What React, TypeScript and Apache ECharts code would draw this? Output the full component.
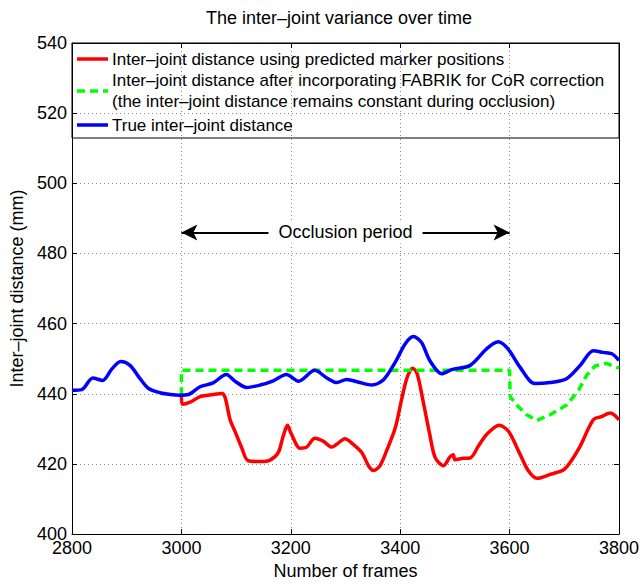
import React, { useEffect, useRef } from "react";
import * as echarts from "echarts";

const FONT = "'Liberation Sans', Arial, Helvetica, sans-serif";

const titleText = "The inter–joint variance over time";
const xAxisName = "Number of frames";
const yAxisName = "Inter–joint distance (mm)";
const annotationText = "Occlusion period";
const legendRed = "Inter–joint distance using predicted marker positions";
const legendGreen1 = "Inter–joint distance after incorporating FABRIK for CoR correction";
const legendGreen2 = "(the inter–joint distance remains constant during occlusion)";
const legendBlue = "True inter–joint distance";

// True inter-joint distance (blue)
const blueFrames = [2800, 2818, 2838, 2856, 2873, 2889, 2906, 2924, 2940, 2961, 2980, 2997, 3013, 3034, 3058, 3082, 3098, 3119, 3144, 3168, 3192, 3214, 3244, 3266, 3284, 3302, 3326, 3348, 3369, 3391, 3409, 3424, 3439, 3454, 3476, 3494, 3528, 3558, 3579, 3597, 3619, 3646, 3674, 3704, 3729, 3753, 3771, 3787, 3800];
const blueDist = [441.0, 441.2, 444.5, 443.8, 447.1, 449.2, 448.1, 444.4, 441.5, 440.3, 439.8, 439.6, 439.8, 442.0, 443.1, 445.5, 443.6, 441.8, 442.5, 443.7, 445.5, 443.6, 446.7, 444.5, 443.2, 444.1, 443.2, 442.5, 443.9, 449.0, 454.2, 456.3, 454.6, 449.5, 445.7, 446.9, 448.1, 452.8, 454.8, 452.8, 447.6, 442.9, 443.2, 444.3, 448.1, 452.3, 451.8, 451.4, 449.5];

// Predicted marker positions (red)
const redFrames = [3000, 3001, 3016, 3034, 3058, 3074, 3080, 3089, 3098, 3110, 3122, 3144, 3162, 3177, 3186, 3194, 3200, 3217, 3229, 3244, 3259, 3275, 3284, 3299, 3314, 3330, 3342, 3351, 3363, 3375, 3391, 3403, 3413, 3423, 3431, 3442, 3454, 3464, 3479, 3491, 3497, 3500, 3515, 3528, 3543, 3558, 3581, 3598, 3619, 3634, 3650, 3674, 3701, 3726, 3753, 3768, 3784, 3800];
const redDist = [439.6, 437.0, 437.6, 439.2, 439.8, 440.1, 438.9, 432.6, 429.3, 424.7, 420.9, 420.7, 421.1, 423.2, 427.9, 431.0, 428.9, 424.5, 424.8, 427.3, 426.5, 424.8, 425.6, 427.2, 425.6, 423.2, 419.5, 418.1, 419.5, 423.7, 430.3, 438.7, 444.8, 447.3, 445.7, 437.8, 428.4, 421.8, 419.5, 422.0, 422.6, 421.2, 421.6, 421.7, 425.1, 428.4, 431.0, 429.3, 422.8, 418.1, 415.9, 417.0, 418.6, 424.2, 432.6, 433.5, 434.5, 432.6];

// FABRIK CoR correction (green dashed)
const greenFrames = [3000, 3000, 3600, 3601, 3613, 3631, 3650, 3674, 3704, 3726, 3741, 3756, 3777, 3800];
const greenDist = [439.6, 446.7, 446.7, 439.2, 436.8, 434.0, 432.4, 434.0, 436.8, 441.0, 445.3, 447.9, 448.7, 447.3];

// Occlusion period annotation
const occlusionStart = 3000;
const occlusionEnd = 3600;
const occlusionLevel = 486;

const zip = (xs: number[], ys: number[]) => xs.map((x, i) => [x, ys[i]]);

export default function App() {
  const ref = useRef<HTMLDivElement>(null);
  useEffect(() => {
    if (!ref.current) return;
    const chart = echarts.init(ref.current, null, { renderer: "svg", width: 643, height: 585 });
    const axisLine = { show: true, lineStyle: { color: "#000", width: 1 } };
    const axisTick = { show: true, inside: true, length: 5, lineStyle: { color: "#000", width: 1 } };
    const split = { show: true, lineStyle: { color: "#8a8a8a", width: 1, type: [1, 3] } };
    const labelStyle = { color: "#000", fontSize: 18, fontFamily: FONT, lineHeight: 14 };
    const nameStyle = { color: "#000", fontSize: 18, fontFamily: FONT };
    const legendText = { fontSize: 17, fontFamily: FONT, fill: "#000", verticalAlign: "middle" };
    const option: any = {
      animation: false,
      backgroundColor: "#fff",
      grid: { left: 72, right: 24, top: 43, bottom: 44, containLabel: false },
      xAxis: [
        {
          type: "value", min: 2800, max: 3800, interval: 200, position: "bottom",
          axisLine, axisTick, splitLine: split,
          axisLabel: { ...labelStyle, margin: 7, formatter: (v: number) => String(v) },
          name: xAxisName, nameLocation: "middle", nameGap: 25, nameTextStyle: nameStyle,
        },
        {
          type: "value", min: 2800, max: 3800, interval: 200, position: "top",
          axisLine, axisTick, splitLine: { show: false }, axisLabel: { show: false },
        },
      ],
      yAxis: [
        {
          type: "value", min: 400, max: 540, interval: 20, position: "left",
          axisLine, axisTick, splitLine: split,
          axisLabel: { ...labelStyle, margin: 5, formatter: (v: number) => String(v) },
          name: yAxisName, nameLocation: "middle", nameGap: 41, nameTextStyle: nameStyle,
        },
        {
          type: "value", min: 400, max: 540, interval: 20, position: "right",
          axisLine, axisTick, splitLine: { show: false }, axisLabel: { show: false },
        },
      ],
      series: [
        {
          name: legendRed, type: "line", data: zip(redFrames, redDist), showSymbol: false, symbol: "none",
          smooth: 0.3, lineStyle: { color: "#ff0000", width: 3.5 }, z: 2,
        },
        {
          name: legendGreen1, type: "line", data: zip(greenFrames, greenDist), showSymbol: false, symbol: "none",
          smooth: false, lineStyle: { color: "#00ff00", width: 3.5, type: [8, 5] }, z: 3,
        },
        {
          name: legendBlue, type: "line", data: zip(blueFrames, blueDist), showSymbol: false, symbol: "none",
          smooth: 0.3, lineStyle: { color: "#0000ff", width: 3.5 }, z: 4,
          markLine: {
            silent: true,
            symbol: ["arrow", "arrow"],
            symbolSize: [12, 16],
            lineStyle: { color: "#000", width: 2, type: "solid" },
            label: {
              show: true, position: "insideMiddle", formatter: annotationText,
              color: "#000", fontSize: 18, fontFamily: FONT,
              backgroundColor: "#fff", padding: [2, 10],
            },
            emphasis: { disabled: true },
            data: [[{ coord: [occlusionStart, occlusionLevel] }, { coord: [occlusionEnd, occlusionLevel] }]],
          },
        },
      ],
      graphic: [
        {
          type: "text", x: 339, y: 18, z: 10,
          style: { text: titleText, fontSize: 18, fontFamily: FONT, fill: "#000", align: "center", verticalAlign: "middle" },
        },
        {
          type: "group", z: 10,
          children: [
            { type: "rect", shape: { x: 72, y: 43, width: 547, height: 95 }, style: { fill: "#fff", stroke: "#000", lineWidth: 1 } },
            { type: "line", shape: { x1: 77, y1: 59, x2: 108, y2: 59 }, style: { stroke: "#ff0000", lineWidth: 3.5 } },
            { type: "text", x: 112, y: 59, style: { text: legendRed, ...legendText } },
            { type: "line", shape: { x1: 77, y1: 91, x2: 108, y2: 91 }, style: { stroke: "#00ff00", lineWidth: 3.5, lineDash: [8, 5] } },
            { type: "text", x: 112, y: 80, style: { text: legendGreen1, ...legendText } },
            { type: "text", x: 112, y: 101, style: { text: legendGreen2, ...legendText } },
            { type: "line", shape: { x1: 77, y1: 125, x2: 108, y2: 125 }, style: { stroke: "#0000ff", lineWidth: 3.5 } },
            { type: "text", x: 112, y: 125, style: { text: legendBlue, ...legendText } },
          ],
        },
      ],
    };
    chart.setOption(option);
    return () => chart.dispose();
  }, []);
  return <div ref={ref} style={{ position: "fixed", left: 0, top: 0, width: 643, height: 585, background: "#fff" }} />;
}
